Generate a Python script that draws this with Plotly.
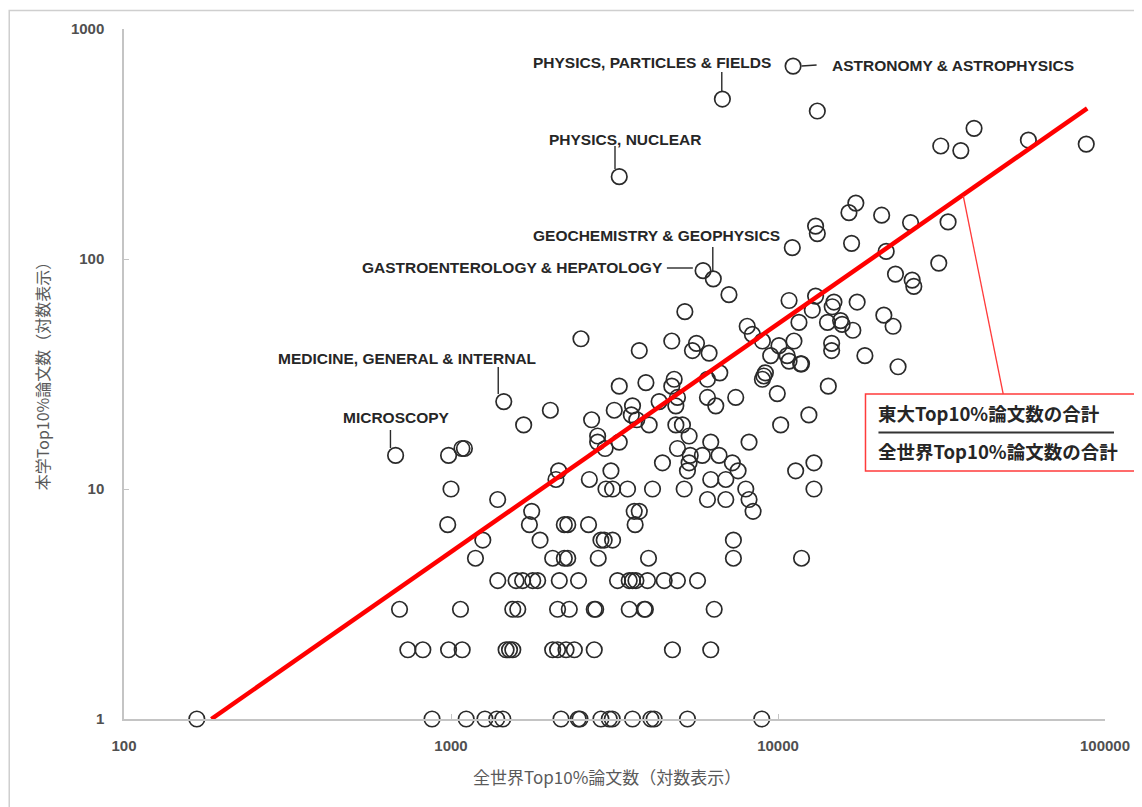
import plotly.graph_objects as go

# ---------------- data ----------------
# University (本学) Top10% paper counts and, for each count, the world Top10% counts of the categories
utokyo_levels = [1, 2, 3, 4, 5, 6, 7, 8, 9, 10, 11, 12, 13, 14, 15, 16, 17, 19, 20, 21, 22, 23, 24, 25,
                 26, 28, 29, 30, 31, 32, 34, 35, 36, 38, 39, 40, 42, 43, 44, 45, 47, 49, 51, 52, 53, 54,
                 57, 59, 60, 62, 65, 66, 69, 70, 76, 81, 82, 86, 89, 96, 108, 112, 117, 129, 139, 144,
                 145, 155, 159, 175, 228, 296, 310, 316, 329, 370, 440, 496, 690]
world_by_level = [
    [167, 875, 1113, 1270, 1380, 1440, 2170, 2450, 2480, 2874, 3048, 3113, 3590, 4087, 4180, 5286, 8918],
    [738, 820, 983, 1082, 1474, 1510, 1545, 2046, 2118, 2248, 2383, 2742, 4755, 6228],
    [696, 1069, 1545, 1600, 2118, 2300, 2742, 2770, 3509, 3900, 3930, 6380],
    [1390, 1581, 1656, 1778, 1841, 2144, 2455, 3230, 3508, 3590, 3677, 3990, 4487, 4925, 5675],
    [1188, 2046, 2221, 2275, 2820, 4018, 7305, 11803],
    [1251, 1872, 2874, 2941, 3120, 7305],
    [977, 1737, 2221, 2275, 2634, 3657],
    [1765, 3633, 3765, 8390],
    [1389, 6085, 6923, 8155],
    [1000, 2978, 3120, 3467, 4133, 5165, 7970, 12882],
    [2094, 2649, 6228, 6923],
    [2134, 3084, 5285, 7550, 11324],
    [4433, 5348, 7250, 12880],
    [677, 983, 5390, 5870, 6603],
    [1080, 1099, 2960, 4927],
    [2808, 3270, 6228, 8155],
    [2808, 5348],
    [1668, 4036, 4872, 5102, 10190],
    [2692, 3700],
    [3560, 12430],
    [2013, 3157],
    [3590, 4870, 6452],
    [1450, 4330],
    [4927, 6085, 7425],
    [9950],
    [3270, 4733, 14250],
    [3945],
    [4814, 6085, 8960],
    [9050],
    [6637, 9150],
    [23290],
    [11730, 11800],
    [10810],
    [9500, 10670, 18440],
    [6155],
    [3765, 5475, 14590],
    [10070],
    [5633, 14590],
    [4733, 8960, 11190],
    [2497],
    [8350],
    [16940],
    [8050, 22490],
    [15710],
    [11590, 14170],
    [15540],
    [21070],
    [5190],
    [12730],
    [14650],
    [14830, 17460],
    [10810],
    [13030],
    [7080],
    [26020],
    [25720],
    [6340],
    [22870],
    [5900],
    [31020],
    [21420],
    [11060],
    [16790],
    [13190],
    [13030],
    [25430],
    [33120],
    [20750],
    [16480],
    [17300],
    [3270],
    [36230],
    [31460],
    [87630],
    [58300],
    [39770],
    [13190],
    [6760],
    [11120],
]

# ratio line: 東大Top10%論文数の合計 / 全世界Top10%論文数の合計
trend_world = [185, 88230]
trend_utokyo = [1, 452]

label_names = ["PHYSICS, PARTICLES & FIELDS", "ASTRONOMY & ASTROPHYSICS", "PHYSICS, NUCLEAR",
               "GEOCHEMISTRY & GEOPHYSICS", "GASTROENTEROLOGY & HEPATOLOGY",
               "MEDICINE, GENERAL & INTERNAL", "MICROSCOPY"]

x_tick_vals = [100, 1000, 10000, 100000]
y_tick_vals = [1, 10, 100, 1000]
x_title = "全世界Top10%論文数（対数表示）"
y_title = "本学Top10%論文数（対数表示）"
ratio_top = "東大Top10%論文数の合計"
ratio_bottom = "全世界Top10%論文数の合計"

# ---------------- build ----------------
xs, ys = [], []
for lvl, row in zip(utokyo_levels, world_by_level):
    for v in row:
        xs.append(v)
        ys.append(lvl)

OFF = 8                      # page body margin of the written html
W, H = 1142 - OFF, 807 - OFF
L, R, T, B = 116, 35, 21, 88
PW, PH = W - L - R, H - T - B


def px(x):
    """page pixel x -> paper x"""
    return (x - OFF - L) / PW


def py(y):
    """page pixel y -> paper y"""
    return (T + PH - (y - OFF)) / PH


fig = go.Figure()
fig.add_trace(go.Scatter(
    x=xs, y=ys, mode="markers", cliponaxis=False, showlegend=False,
    marker=dict(symbol="circle-open", size=15.5, color="#2a2a2a", line=dict(width=1.7)),
))
fig.add_trace(go.Scatter(
    x=trend_world, y=trend_utokyo, mode="lines", cliponaxis=False, showlegend=False,
    line=dict(color="#ff0000", width=4.5),
))

axis_common = dict(
    type="log", showgrid=False, zeroline=False, showline=True,
    linecolor="#c4c4c4", linewidth=1.5, ticks="inside", ticklen=5,
    tickcolor="#c4c4c4", tickwidth=1.2, mirror=False,
    tickfont=dict(family="Liberation Sans", size=15, color="#505050", weight="bold"),
)
fig.update_xaxes(range=[2, 5], tickvals=x_tick_vals, ticktext=[str(v) for v in x_tick_vals],
                 ticklabelstandoff=12, **axis_common)
fig.update_yaxes(range=[0, 3], tickvals=y_tick_vals, ticktext=[str(v) for v in y_tick_vals],
                 ticklabelstandoff=15, **axis_common)

annotations = []
# axis titles
annotations.append(dict(text=x_title, xref="paper", yref="paper", x=px(608), y=py(776),
                        xanchor="center", yanchor="middle", showarrow=False,
                        font=dict(family="Noto Sans CJK JP", size=17, color="#5a5a5a")))
annotations.append(dict(text=y_title, xref="paper", yref="paper", x=px(42), y=py(372),
                        xanchor="center", yanchor="middle", showarrow=False, textangle=-90,
                        font=dict(family="Noto Sans CJK JP", size=16, color="#5a5a5a")))

# category labels (left edge, center y in page pixels)
label_pos = [(532, 63), (831, 66), (548, 139), (532, 235), (360, 267), (276, 358), (341, 418)]
for name, (lx, ly) in zip(label_names, label_pos):
    annotations.append(dict(text="<b>" + name + "</b>", xref="paper", yref="paper",
                            x=px(lx), y=py(ly), xanchor="left", yanchor="middle", showarrow=False,
                            font=dict(family="Liberation Sans", size=15.5, color="#262626")))

# ratio box texts
annotations.append(dict(text="<b>" + ratio_top + "</b>", xref="paper", yref="paper",
                        x=px(878), y=py(413), xanchor="left", yanchor="middle", showarrow=False,
                        font=dict(family="Noto Sans CJK JP", size=18.5, color="#262626")))
annotations.append(dict(text="<b>" + ratio_bottom + "</b>", xref="paper", yref="paper",
                        x=px(878), y=py(451), xanchor="left", yanchor="middle", showarrow=False,
                        font=dict(family="Noto Sans CJK JP", size=18.5, color="#262626")))

shapes = []
# leader lines
leaders = [((723, 72), (723, 91)), ((803, 66), (818, 65)), ((616, 146), (616, 169)),
           ((714, 247), (714, 271)), ((668, 268), (694, 268)), ((499, 367), (499, 394)),
           ((391, 430), (391, 448))]
for (x0, y0), (x1, y1) in leaders:
    shapes.append(dict(type="line", xref="paper", yref="paper", x0=px(x0), y0=py(y0),
                       x1=px(x1), y1=py(y1), line=dict(color="#2a2a2a", width=1.4)))
# ratio box
shapes.append(dict(type="rect", xref="paper", yref="paper", x0=px(867), y0=py(471),
                   x1=px(1160), y1=py(394), line=dict(color="#ff3b3b", width=1.5),
                   fillcolor="rgba(255,255,255,1)", layer="below"))
shapes.append(dict(type="line", xref="paper", yref="paper", x0=px(880), y0=py(432.5),
                   x1=px(1116), y1=py(432.5), line=dict(color="#333333", width=2)))
# connector from ratio line to box
shapes.append(dict(type="line", xref="paper", yref="paper", x0=px(965), y0=py(196),
                   x1=px(1005), y1=py(394), line=dict(color="#ff3b3b", width=1.3)))
# outer frame (left and top edges visible)
shapes.append(dict(type="rect", xref="paper", yref="paper", x0=px(9), y0=py(840),
                   x1=px(1180), y1=py(10.5), line=dict(color="#cfcfcf", width=1.5), layer="below"))

fig.update_layout(
    width=W, height=H, margin=dict(l=L, r=R, t=T, b=B),
    paper_bgcolor="white", plot_bgcolor="white",
    annotations=annotations, shapes=shapes, showlegend=False,
)

fig.write_html("out.html")
